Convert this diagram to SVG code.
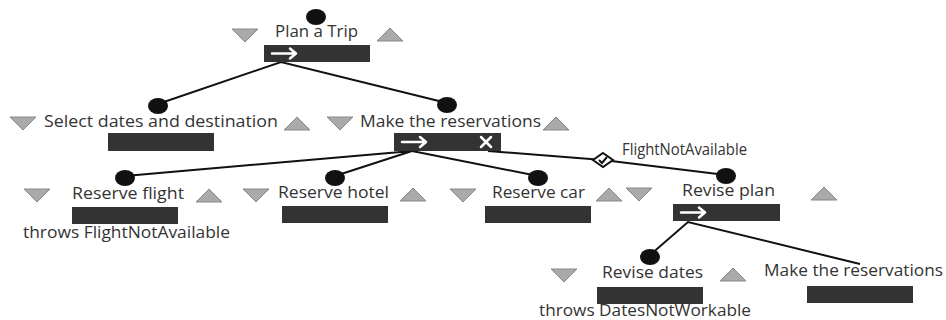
<svg xmlns="http://www.w3.org/2000/svg" width="946" height="320" viewBox="0 0 946 320">
<defs>
<style>
.t{font-family:"Open Sans","Noto Sans",sans-serif;font-size:15.5px;fill:#333;text-anchor:middle}
.bar{fill:#333}
.dot{fill:#111}
.tri{fill:#aaa;stroke:#888;stroke-width:1}
.ln{stroke:#111;stroke-width:2;fill:none}
.ar{stroke:#fff;stroke-width:2.5;fill:none;stroke-linecap:round;stroke-linejoin:round}
</style>
<polygon id="down" class="tri" points="0,0 26,0 13,13"/>
<polygon id="up" class="tri" points="0,13 26,13 13,0"/>
</defs>
<rect width="946" height="320" fill="#fff"/>
<g id="connectors">
<polyline class="ln" points="158,104 281,62 447,103"/>
<polyline class="ln" points="125,176 412,151 335,176"/>
<line class="ln" x1="412" y1="151" x2="538" y2="176"/>
<polyline class="ln" points="488,151 603,160 726,175"/>
<polyline class="ln" points="650,255 688,222 860,264"/>
<g id="exception">
<polygon points="603,153 613,160 603,167 593,160" fill="#fff" stroke="#111" stroke-width="2"/>
<polyline points="599,160 602,163 607,157" fill="none" stroke="#111" stroke-width="2"/>
<text class="t" x="622" y="155" style="text-anchor:start" textLength="125" lengthAdjust="spacingAndGlyphs">FlightNotAvailable</text>
</g>
</g>
<g id="plan-trip">
<ellipse class="dot" cx="316" cy="17" rx="10" ry="8"/>
<use href="#down" x="232" y="29"/>
<use href="#up" x="377" y="28"/>
<text class="t" x="316.5" y="37" textLength="83" lengthAdjust="spacingAndGlyphs">Plan a Trip</text>
<rect class="bar" x="264" y="45" width="106" height="17"/>
<path class="ar" d="M272,53.5 H296 M290,48.5 L296,53.5 L290,58.5"/>
</g>
<g id="select-dates">
<ellipse class="dot" cx="158" cy="106" rx="10" ry="8"/>
<use href="#down" x="10" y="117"/>
<use href="#up" x="284" y="117"/>
<text class="t" x="161" y="127" textLength="234" lengthAdjust="spacingAndGlyphs">Select dates and destination</text>
<rect class="bar" x="108" y="133" width="106" height="18"/>
</g>
<g id="make-reservations">
<ellipse class="dot" cx="447" cy="105" rx="10" ry="8"/>
<use href="#down" x="327" y="117"/>
<use href="#up" x="543" y="117"/>
<text class="t" x="450.5" y="127" textLength="181" lengthAdjust="spacingAndGlyphs">Make the reservations</text>
<rect class="bar" x="394" y="133" width="107" height="18"/>
<path class="ar" d="M402,142 H426 M420,137 L426,142 L420,147"/>
<path class="ar" d="M481,137 L491,147 M491,137 L481,147"/>
</g>
<g id="reserve-flight">
<ellipse class="dot" cx="125" cy="178" rx="10" ry="8"/>
<use href="#down" x="24" y="189"/>
<use href="#up" x="196" y="189"/>
<text class="t" x="128" y="199" textLength="112" lengthAdjust="spacingAndGlyphs">Reserve flight</text>
<rect class="bar" x="72" y="207" width="106" height="17"/>
<text class="t" x="126.5" y="238" textLength="207" lengthAdjust="spacingAndGlyphs">throws FlightNotAvailable</text>
</g>
<g id="reserve-hotel">
<ellipse class="dot" cx="335" cy="178" rx="10" ry="8"/>
<use href="#down" x="243" y="189"/>
<use href="#up" x="400" y="188"/>
<text class="t" x="333.5" y="198" textLength="111" lengthAdjust="spacingAndGlyphs">Reserve hotel</text>
<rect class="bar" x="282" y="206" width="106" height="17"/>
</g>
<g id="reserve-car">
<ellipse class="dot" cx="538" cy="178" rx="10" ry="8"/>
<use href="#down" x="450" y="189"/>
<use href="#up" x="596" y="188"/>
<text class="t" x="538.5" y="198" textLength="93" lengthAdjust="spacingAndGlyphs">Reserve car</text>
<rect class="bar" x="485" y="206" width="106" height="17"/>
</g>
<g id="revise-plan">
<ellipse class="dot" cx="726" cy="176" rx="10" ry="8"/>
<use href="#down" x="626" y="188"/>
<use href="#up" x="811" y="187"/>
<text class="t" x="728.5" y="196" textLength="93" lengthAdjust="spacingAndGlyphs">Revise plan</text>
<rect class="bar" x="673" y="204" width="107" height="17"/>
<path class="ar" d="M681,212.5 H705 M699,207.5 L705,212.5 L699,217.5"/>
</g>
<g id="revise-dates">
<ellipse class="dot" cx="650" cy="257" rx="10" ry="8"/>
<use href="#down" x="551" y="269"/>
<use href="#up" x="720" y="268"/>
<text class="t" x="652.5" y="278" textLength="101" lengthAdjust="spacingAndGlyphs">Revise dates</text>
<rect class="bar" x="597" y="287" width="106" height="17"/>
<text class="t" x="645" y="316" textLength="212" lengthAdjust="spacingAndGlyphs">throws DatesNotWorkable</text>
</g>
<g id="make-reservations-2">
<text class="t" x="853.5" y="276" textLength="179" lengthAdjust="spacingAndGlyphs">Make the reservations</text>
<rect class="bar" x="807" y="286" width="106" height="17"/>
</g>
</svg>
